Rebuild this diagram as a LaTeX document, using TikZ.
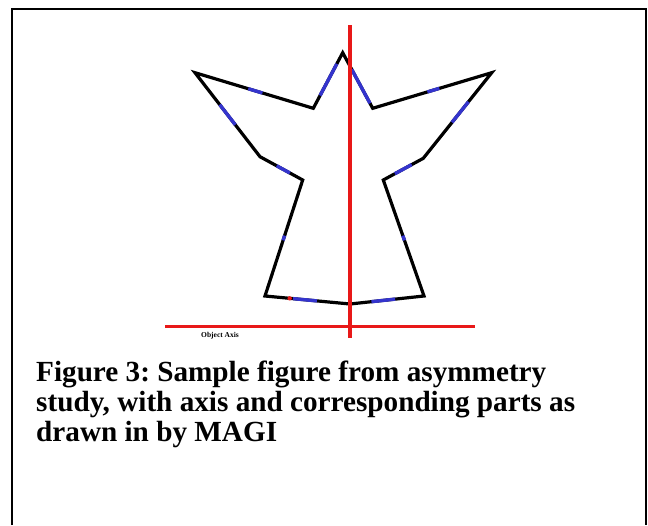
\documentclass[tikz,border=0pt]{standalone}
\usepackage{fontspec}
\setmainfont{Liberation Serif}
\usetikzlibrary{calc}
\definecolor{axisred}{RGB}{232,24,24}
\definecolor{partblue}{RGB}{52,52,205}

\begin{document}
\frenchspacing
\begin{tikzpicture}[
  x=1pt, y=-1pt,
  frame/.style={draw=black, line width=2.6pt},
  outline/.style={draw=black, line width=3.2pt, line join=miter},
  axis/.style={draw=axisred, line width=3.3pt},
  part/.style={draw=partblue, line width=3.4pt},
  caption/.style={anchor=base west, inner sep=0pt, font=\fontsize{29.2}{30}\selectfont\bfseries, align=left},
  axislab/.style={anchor=west, inner sep=0pt, font=\fontsize{7.5}{8}\selectfont\bfseries}
]
\useasboundingbox (0,0) rectangle (648,525);

% Frame (open at the bottom)
\draw[frame] (12,525) -- (12,9) -- (646,9) -- (646,525);

% Outline of the figure
\coordinate (peak)   at (342.7,52.7);
\coordinate (rnotch) at (372.7,108.3);
\coordinate (rwing)  at (491.7,72.7);
\coordinate (relbow) at (423.3,158.3);
\coordinate (rarm)   at (383.3,180);
\coordinate (rfoot)  at (424,296);
\coordinate (mid)    at (350,304);
\coordinate (lfoot)  at (265,296);
\coordinate (larm)   at (302.7,180);
\coordinate (lelbow) at (260,156.7);
\coordinate (lwing)  at (195,72.7);
\coordinate (lnotch) at (313.3,108.3);

\draw[outline] (peak) -- (rnotch) -- (rwing) -- (relbow) -- (rarm) -- (rfoot)
  -- (mid) -- (lfoot) -- (larm) -- (lelbow) -- (lwing) -- (lnotch) -- cycle;

% Corresponding parts
\draw[part] ($(lnotch)!0.23!(peak)$) -- ($(lnotch)!0.80!(peak)$);
\draw[part] ($(peak)!0.30!(rnotch)$) -- ($(peak)!0.91!(rnotch)$);
\draw[part] ($(lwing)!0.45!(lnotch)$) -- ($(lwing)!0.57!(lnotch)$);
\draw[part] ($(rnotch)!0.46!(rwing)$) -- ($(rnotch)!0.56!(rwing)$);
\draw[part] ($(lwing)!0.38!(lelbow)$) -- ($(lwing)!0.62!(lelbow)$);
\draw[part] ($(rwing)!0.34!(relbow)$) -- ($(rwing)!0.58!(relbow)$);
\draw[part] ($(lelbow)!0.39!(larm)$) -- ($(lelbow)!0.70!(larm)$);
\draw[part] ($(relbow)!0.29!(rarm)$) -- ($(relbow)!0.71!(rarm)$);
\draw[part] ($(larm)!0.48!(lfoot)$) -- ($(larm)!0.52!(lfoot)$);
\draw[part] ($(rarm)!0.48!(rfoot)$) -- ($(rarm)!0.52!(rfoot)$);
\draw[part] ($(lfoot)!0.33!(mid)$) -- ($(lfoot)!0.61!(mid)$);
\draw[part] ($(mid)!0.29!(rfoot)$) -- ($(mid)!0.61!(rfoot)$);
\fill[axisred] ($(lfoot)!0.29!(mid)$) circle (2.2);

% Axes
\coordinate (vtop) at (350,25);
\coordinate (vbot) at (350,338);
\coordinate (hleft) at (165,326.5);
\coordinate (hright) at (475,326.5);
\draw[axis] (vtop) -- (vbot);
\draw[axis] (hleft) -- (hright);
\node[axislab] (axisname) at (201,335.5) {Object Axis};

% Caption
\node[caption] (cap1) at (36,381.7) {Figure 3: Sample figure from asymmetry};
\node[caption] (cap2) at (36,411.7) {study, with axis and corresponding parts as};
\node[caption] (cap3) at (36,441.7) {drawn in by MAGI};
\end{tikzpicture}
\end{document}
